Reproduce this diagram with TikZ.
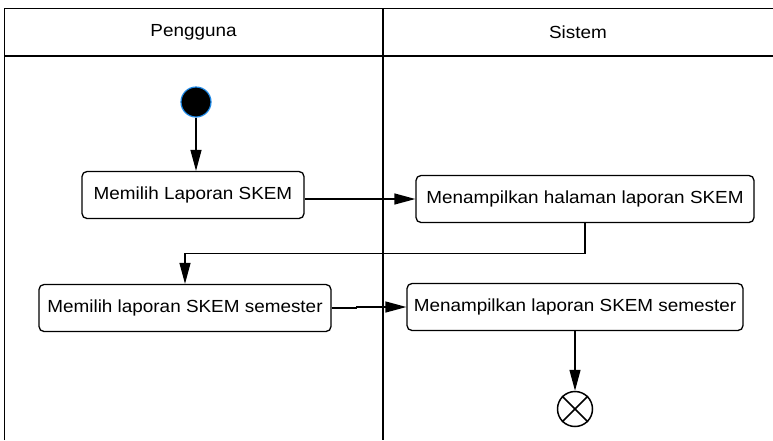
\documentclass[tikz,border=0pt]{standalone}
\usepackage{fontspec}
\setmainfont{Liberation Sans}[FakeStretch=1.08]
\usetikzlibrary{arrows.meta,positioning,calc}

\definecolor{startblue}{RGB}{30,136,229}

\tikzset{
    lane/.style={line width=1.3pt},
    act/.style={draw, line width=1.3pt, rounded corners=5pt, fill=white,
        inner xsep=6pt, minimum height=47pt, font=\fontsize{17.5}{20}\selectfont},
    flow/.style={line width=1.3pt, -{Triangle[length=21pt,width=11pt]}},
    startnode/.style={circle, fill=black, draw=startblue, line width=1.2pt, minimum size=30pt, inner sep=0pt},
    endnode/.style={circle, draw, line width=1.5pt, fill=white, minimum size=35pt, inner sep=0pt},
}

\begin{document}
\begin{tikzpicture}[x=1pt,y=-1pt]
    \useasboundingbox (0,0) rectangle (773,440);
    \begin{scope} % Swimlanes
        \draw[lane] (4.5,440) -- (4.5,8.5) -- (773,8.5);
        \draw[line width=2.2pt] (4.5,56) -- (773,56);
        \draw[lane] (383,8.5) -- (383,440);
        \node (pengguna) at (193.5,32) {\fontsize{17.5}{20}\selectfont Pengguna};
        \node (sistem) at (578,32) {\fontsize{17.5}{20}\selectfont Sistem};
    \end{scope}
    \begin{scope} % Activities
        \node[startnode] (mulai) at (196,102) {};
        \node[act, minimum width=222pt] (pilih) at (193,195) {Memilih Laporan SKEM};
        \node[act, minimum width=338pt] (tampil) at (585,199) {Menampilkan halaman laporan SKEM};
        \node[act, minimum width=292pt] (pilihsem) at (185,308) {Memilih laporan SKEM semester};
        \node[act, minimum width=336pt] (tampilsem) at (575,307) {Menampilkan laporan SKEM semester};
        \node[endnode] (selesai) at (575,409) {};
        \draw[line width=1.5pt] (selesai.north west) -- (selesai.south east);
        \draw[line width=1.5pt] (selesai.north east) -- (selesai.south west);
    \end{scope}

% Control flow between activities
\draw[flow] (mulai.south) -- (mulai.south |- pilih.north);
\draw[flow] (pilih.east |- tampil.west) -- (tampil.west);
\draw[flow] (tampil.south) -- ++(0,30) -| (pilihsem.north);
\draw[flow] (pilihsem.east) -- ++(25,0) |- (tampilsem.west);
\draw[flow] (tampilsem.south) -- (tampilsem.south |- selesai.north);

\end{tikzpicture}
\end{document}
